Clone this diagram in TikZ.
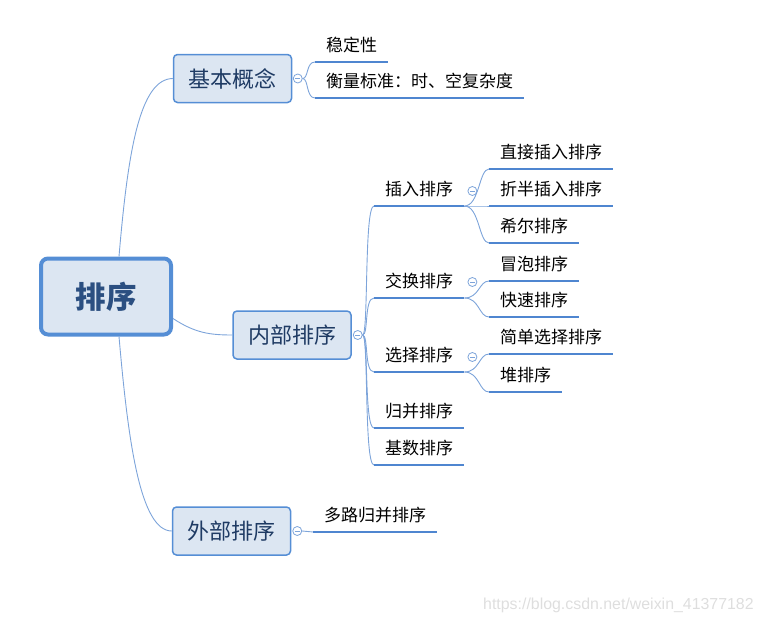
\documentclass[tikz,border=0pt]{standalone}
\usepackage{fontspec}
\setmainfont{Noto Sans CJK SC}
\newfontfamily\wmfont{Liberation Sans}
\usetikzlibrary{calc}
\definecolor{boxfill}{HTML}{DCE6F2}
\definecolor{boxline}{HTML}{558ED5}
\definecolor{boxtext}{HTML}{1F3B64}
\definecolor{roottext}{HTML}{2B4F81}
\definecolor{linkcol}{HTML}{7DA4DA}
\definecolor{ulcol}{HTML}{4F86D0}
\tikzset{
  topic/.style={draw=boxline, fill=boxfill, line width=1.5pt, rounded corners=4pt,
    minimum height=48pt, minimum width=118pt, text=boxtext,
    font=\fontsize{22}{26}\selectfont, inner sep=0pt},
  rootbox/.style={draw=boxline, fill=boxfill, line width=4pt, rounded corners=7pt,
    minimum width=130pt, minimum height=76pt, text=roottext,
    font=\fontsize{30.5}{34}\selectfont\bfseries, inner sep=0pt},
  leaf/.style={anchor=south west, inner xsep=11pt, inner ysep=0pt, text height=14pt,
    text depth=10pt, font=\fontsize{17}{20}\selectfont, text=black},
  ul/.style={draw=ulcol, line width=2.8pt},
  link/.style={draw=linkcol, line width=0.9pt},
  coll/.style={circle, draw=linkcol, fill=white, line width=0.8pt, minimum size=9pt,
    inner sep=0pt,
    path picture={\draw[linkcol, line width=0.7pt]
      ($(path picture bounding box.center)+(-2.3,0)$) --
      ($(path picture bounding box.center)+(2.3,0)$);}},
}
\begin{document}
\begin{tikzpicture}[x=1pt,y=-1pt]
\path[use as bounding box] (0,0) rectangle (764,621);

% main topics
\node[rootbox] (root) at (106,296.5) {排序};
\node[topic] (b1) at (232.5,78.5) {基本概念};
\node[topic] (b2) at (292,335) {内部排序};
\node[topic] (b3) at (231.5,531) {外部排序};

% collapse markers of topics
\node[coll] (c1) at ($(b1.east)+(5.5,0)$) {};
\node[coll] (c2) at ($(b2.east)+(6,0)$) {};
\node[coll] (c3) at ($(b3.east)+(6,0)$) {};

% root connectors
\coordinate (rt) at ($(root.north)+(13,0)$);
\coordinate (rb) at ($(root.south)+(13,0)$);
\coordinate (rr) at ($(root.east)+(0,22)$);
\draw[link] (rt) .. controls (128,150) and (140,79) .. (b1.west);
\draw[link] (rb) .. controls (128,440) and (140,531) .. (b3.west);
\draw[link] (rr) .. controls (195,333) and (210,335) .. (b2.west);

% leaves of 基本概念
\node[leaf] (s1) at (315,62) {稳定性};
\node[leaf] (s2) at (315,98) {衡量标准：时、空复杂度};

% leaves of 内部排序
\node[leaf] (k1) at (374,206) {插入排序};
\node[leaf] (k2) at (374,298) {交换排序};
\node[leaf] (k3) at (374,372) {选择排序};
\node[leaf] (k4) at (374,428) {归并排序};
\node[leaf] (k5) at (374,465) {基数排序};

% grandchildren
\node[leaf] (g1) at (489,169) {直接插入排序};
\node[leaf] (g2) at (489,206) {折半插入排序};
\node[leaf] (g3) at (489,243) {希尔排序};
\node[leaf] (g4) at (489,281) {冒泡排序};
\node[leaf] (g5) at (489,317) {快速排序};
\node[leaf] (g6) at (489,354) {简单选择排序};
\node[leaf] (g7) at (489,392) {堆排序};

% leaf of 外部排序
\node[leaf] (m1) at (313,532) {多路归并排序};

% collapse markers of sub-branches
\node[coll] (d1) at ($(k1.south east)+(8,-15)$) {};
\node[coll] (d2) at ($(k2.south east)+(8,-16)$) {};
\node[coll] (d3) at ($(k3.south east)+(8,-15)$) {};

% connectors
\foreach \n in {s1,s2}
  \draw[link] (c1.east) .. controls +(6,0) and +(-9,0) .. (\n.south west);
\foreach \n in {k1,k2,k3,k4,k5}
  \draw[link] (c2.east) .. controls +(6,0) and +(-10,0) .. (\n.south west);
\foreach \n in {g1,g2,g3}
  \draw[link] (k1.south east) .. controls +(15,0) and +(-10,0) .. (\n.south west);
\foreach \n in {g4,g5}
  \draw[link] (k2.south east) .. controls +(15,0) and +(-10,0) .. (\n.south west);
\foreach \n in {g6,g7}
  \draw[link] (k3.south east) .. controls +(15,0) and +(-10,0) .. (\n.south west);
\draw[link] (c3.east) .. controls +(5,0) and +(-5,0) .. (m1.south west);

% underlines
\foreach \n in {s1,s2,k1,k2,k3,k4,k5,g1,g2,g3,g4,g5,g6,g7,m1}
  \draw[ul] (\n.south west) -- (\n.south east);

% watermark
\node[anchor=base west, inner sep=0pt, text=black!13,
  font=\wmfont\fontsize{15.9}{19}\selectfont] (wm) at (483,609)
  {https://blog.csdn.net/weixin\_41377182};
\end{tikzpicture}
\end{document}
